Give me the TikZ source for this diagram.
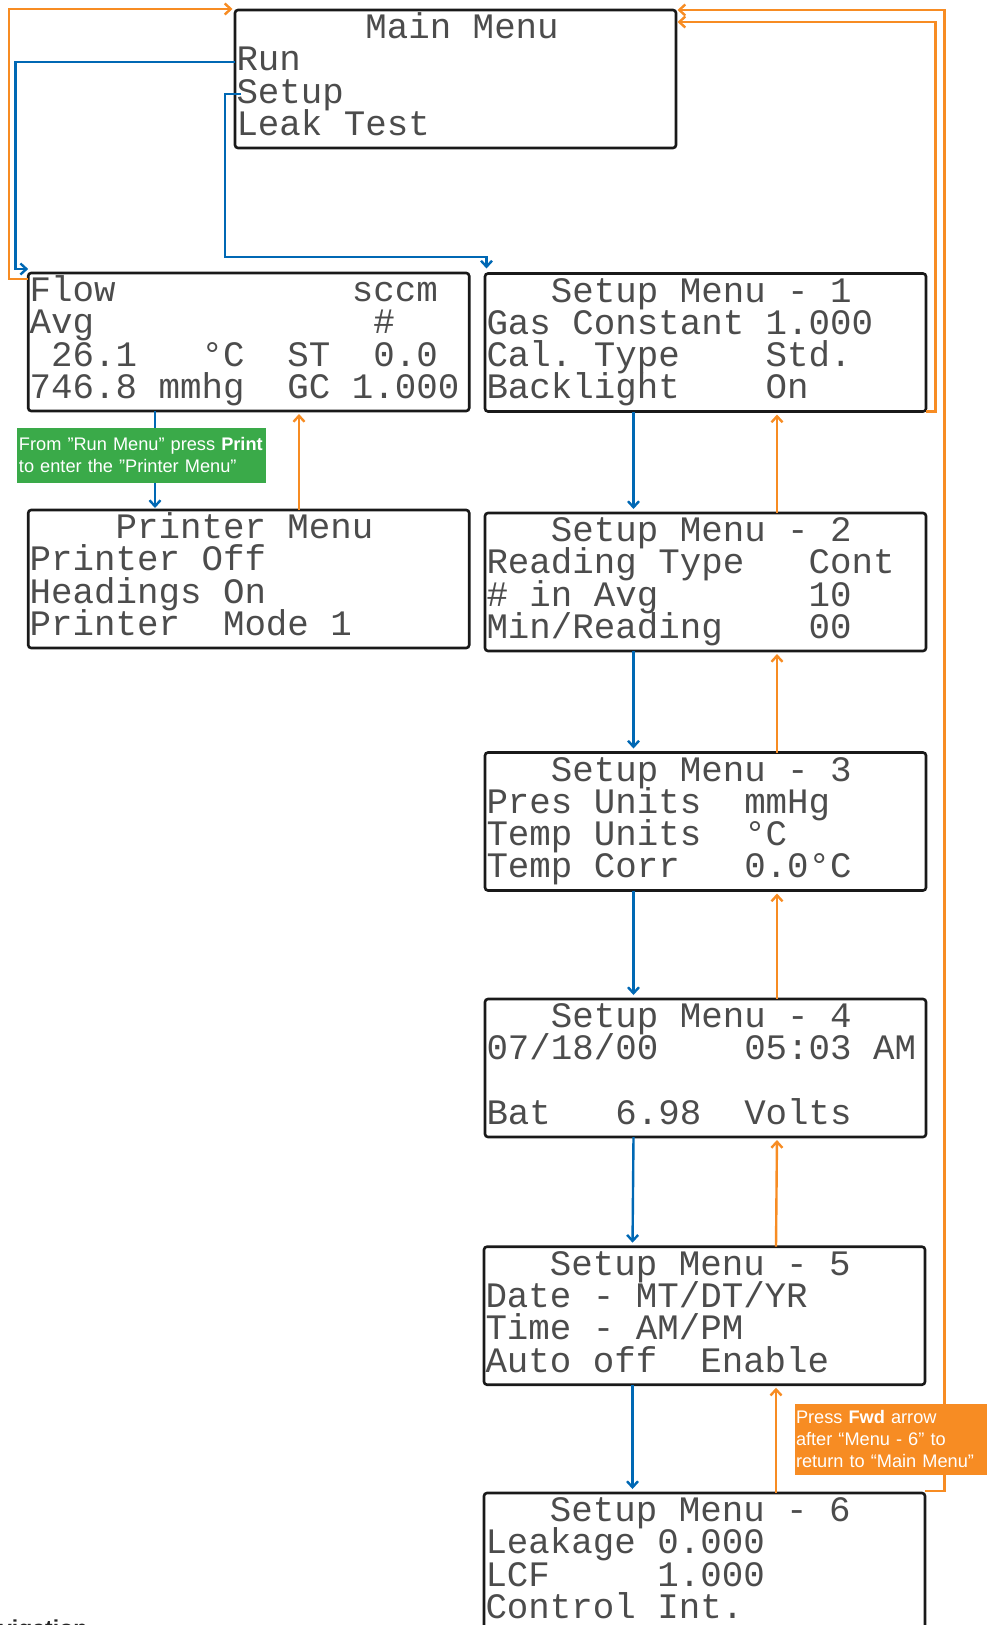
\documentclass[tikz,border=0pt]{standalone}
\usepackage{fontspec}
\setmainfont{Liberation Sans}
\newfontfamily\lcdfont{Liberation Mono}
\usepackage{tikz}
\usetikzlibrary{arrows.meta,positioning,calc}
\definecolor{runblue}{RGB}{0,104,180}
\definecolor{backorange}{RGB}{247,140,35}
\definecolor{notegreen}{RGB}{58,170,73}
\newcommand{\lcdtext}{\lcdfont\fontsize{35.8pt}{32.3pt}\selectfont\lineskiplimit=-50pt
  \def~{\leavevmode\hbox to 0.6em{}}}
\newcommand{\notetext}{\fontsize{18.2pt}{21.5pt}\selectfont}
\newcommand{\qq}{\symbol{34}}

\begin{document}
\begin{tikzpicture}[x=1pt, y=-1pt,
  lcd/.style={draw=black!90, line width=2.6pt, rounded corners=3pt, outer sep=0pt,
    inner xsep=1.5pt, inner ysep=0pt, text width=438pt, align=left,
    text height=28.5pt, text depth=109.5pt, font=\lcdtext, text=black!70},
  note/.style={text=white, font=\notetext, align=left, inner ysep=0pt, outer sep=0pt},
  runarrow/.style={draw=runblue, line width=2.4pt, -{Straight Barb[length=6pt,width=11pt]}},
  backarrow/.style={draw=backorange, line width=2.4pt, -{Straight Barb[length=6pt,width=11pt]}}
]
\useasboundingbox (0,0) rectangle (987,1625);

\node[lcd] (main) at (455.5,79) {~~~~~~Main~Menu\\Run\\Setup\\Leak~Test};
\node[lcd] (flow) at (248.7,342) {Flow~~~~~~~~~~~sccm\\Avg~~~~~~~~~~~~~\#\\~26.1~~~°C~~ST~~0.0\\746.8~mmhg~~GC~1.000};
\node[lcd] (printer) at (248.7,579) {~~~~Printer~Menu\\Printer~Off\\Headings~On\\Printer~~Mode~1};
\node[lcd] (set1) at (705.5,342.5) {~~~Setup~Menu~-~1\\Gas~Constant~1.000\\Cal.~Type~~~~Std.\\Backlight~~~~On};
\node[lcd] (set2) at (705.5,582) {~~~Setup~Menu~-~2\\Reading~Type~~~Cont\\\#~in~Avg~~~~~~~10\\Min/Reading~~~~00};
\node[lcd] (set3) at (705.5,821.5) {~~~Setup~Menu~-~3\\Pres~Units~~mmHg\\Temp~Units~~°C\\Temp~Corr~~~0.0°C};
\node[lcd] (set4) at (705.5,1068) {~~~Setup~Menu~-~4\\07/18/00~~~~05:03~AM\\~\\Bat~~~6.98~~Volts};
\node[lcd] (set5) at (704.5,1315.7) {~~~Setup~Menu~-~5\\Date~-~MT/DT/YR\\Time~-~AM/PM\\Auto~off~~Enable};
\node[lcd] (set6) at (704.5,1562) {~~~Setup~Menu~-~6\\Leakage~0.000\\LCF~~~~~1.000\\Control~Int.};

% main menu choices
\draw[runarrow] ([yshift=17pt]main.west) -| (15.5,269) -- ([yshift=4pt]flow.north west);
\draw[runarrow, shorten >=5pt] ([xshift=6pt,yshift=-15pt]main.west) -| (225,257) -| ([xshift=1.5pt]set1.north west);

% back to main menu
\draw[backarrow, shorten >=2.5pt] ([yshift=-6pt]flow.north west) -| (9,9) -- ([yshift=1pt]main.north west);
\draw[backarrow, shorten >=1.5pt] (set1.south east) -| (935.5,22) -- ([yshift=-12pt]main.north east);
\draw[backarrow, shorten >=1.5pt] ([yshift=2pt]set6.north east) -| (944.5,10) -- (main.north east);

% run menu / printer menu
\draw[runarrow, shorten >=2pt] ([xshift=-93.7pt]flow.south) -- ([xshift=-93.7pt]printer.north);
\draw[backarrow, shorten >=3pt] ([xshift=50.3pt]printer.north) -- ([xshift=50.3pt]flow.south);

% setup menus
\draw[runarrow, shorten >=4pt] ([xshift=-72pt]set1.south) -- ([xshift=-72pt]set2.north);
\draw[runarrow, shorten >=4pt] ([xshift=-72pt]set2.south) -- ([xshift=-72pt]set3.north);
\draw[runarrow, shorten >=4pt] ([xshift=-72pt]set3.south) -- ([xshift=-72pt]set4.north);
\draw[runarrow, shorten >=4pt] ([xshift=-72pt]set4.south) -- ([xshift=-72pt]set5.north);
\draw[runarrow, shorten >=4pt] ([xshift=-72pt]set5.south) -- ([xshift=-72pt]set6.north);
\draw[backarrow, shorten >=3pt] ([xshift=71.5pt]set2.north) -- ([xshift=71.5pt]set1.south);
\draw[backarrow, shorten >=3pt] ([xshift=71.5pt]set3.north) -- ([xshift=71.5pt]set2.south);
\draw[backarrow, shorten >=3pt] ([xshift=71.5pt]set4.north) -- ([xshift=71.5pt]set3.south);
\draw[backarrow, shorten >=3pt] ([xshift=71.5pt]set5.north) -- ([xshift=71.5pt]set4.south);
\draw[backarrow, shorten >=3pt] ([xshift=71.5pt]set6.north) -- ([xshift=71.5pt]set5.south);

% notes
\node[note, fill=notegreen, text width=245pt, inner xsep=2pt, text height=22.7pt, text depth=32.3pt] (printnote) at (141.5,455.5)
  {From \qq Run Menu\qq{} press \textbf{Print}\\to enter the \qq Printer Menu\qq};
\node[note, fill=backorange, text width=190pt, inner xsep=1pt, text height=19.3pt, text depth=51.7pt,
  font=\fontsize{18.2pt}{22pt}\selectfont] (fwdnote) at (891,1439.5)
  {Press \textbf{Fwd} arrow\\after “Menu - 6” to\\return to “Main Menu”};

\node[anchor=base west, inner sep=0pt, text=black!85, font=\fontsize{23pt}{23pt}\selectfont\bfseries] (navcap) at (-1,1636) {vigation};
\end{tikzpicture}
\end{document}
